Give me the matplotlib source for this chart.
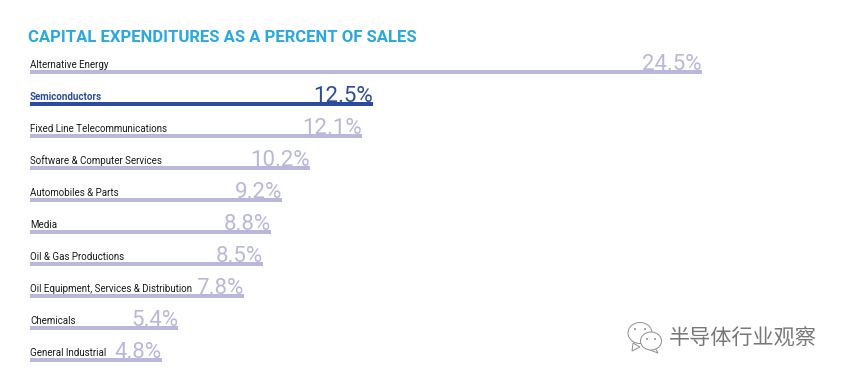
import matplotlib
matplotlib.use("Agg")
import matplotlib.pyplot as plt
from matplotlib.patches import Ellipse, Polygon

categories = ["Alternative Energy", "Semiconductors", "Fixed Line Telecommunications",
              "Software & Computer Services", "Automobiles & Parts", "Media",
              "Oil & Gas Productions", "Oil Equipment, Services & Distribution",
              "Chemicals", "General Industrial"]
values = [24.5, 12.5, 12.1, 10.2, 9.2, 8.8, 8.5, 7.8, 5.4, 4.8]
highlight = "Semiconductors"
title = "CAPITAL EXPENDITURES AS A PERCENT OF SALES"
watermark = "半导体行业观察"

W, H = 843, 377
LIGHT, DARK, BLUE = "#b9b8dc", "#2b4c9e", "#2aa9e0"
fig = plt.figure(figsize=(W/100, H/100), dpi=100, facecolor="white")

px_per_unit = 27.43
x0, x1 = 30, 770
row = 31.97
top = 72 - row/2
bottom = top + row*len(values)
ax = fig.add_axes([x0/W, 1-bottom/H, (x1-x0)/W, (bottom-top)/H])
ax.set_xlim(0, (x1-x0)/px_per_unit)
ax.set_ylim(len(values)-0.5, -0.5)
ax.axis("off")

colors = [DARK if c == highlight else LIGHT for c in categories]
ax.barh(range(len(values)), values, height=4/row, color=colors, linewidth=0)

for i, (c, v) in enumerate(zip(categories, values)):
    hi = c == highlight
    ax.annotate(c, (0, i), xytext=(0, 1.5), textcoords="offset points",
                ha="left", va="bottom", fontsize=7, family="Roboto",
                fontweight="bold" if hi else "normal",
                color=DARK if hi else "#1a1a1a")
    ax.annotate(f"{v}%", (v, i), xytext=(0, -2.4), textcoords="offset points",
                ha="right", va="bottom", fontsize=16, family="Roboto",
                color=DARK if hi else LIGHT)

fig.text(28/W, 1-37/H, title, ha="left", va="center", fontsize=12,
         fontweight="bold", family="Roboto", color=BLUE)

# watermark
ov = fig.add_axes([0, 0, 1, 1], facecolor="none")
ov.set_xlim(0, W); ov.set_ylim(H, 0); ov.axis("off")
GR = "#8f8f8f"
ov.add_patch(Polygon([[633, 343], [632, 351], [640, 347]], fc="white", ec=GR, lw=0.7))
ov.add_patch(Ellipse((640, 333), 24, 21, fc="white", ec=GR, lw=0.7))
ov.add_patch(Polygon([[654, 346], [658, 353], [650, 350]], fc="white", ec=GR, lw=0.7))
ov.add_patch(Ellipse((651, 341), 21, 18, fc="white", ec=GR, lw=0.7))
for (x, y) in [(635, 329), (645, 329), (647, 339), (655, 339)]:
    ov.add_patch(Ellipse((x, y), 2, 2, fc=GR, ec="none"))
ov.text(743, 339, watermark, ha="center", va="center", fontsize=15.2,
        family="Noto Sans CJK SC", color="#777777")

fig.savefig("out.png", dpi=100)
